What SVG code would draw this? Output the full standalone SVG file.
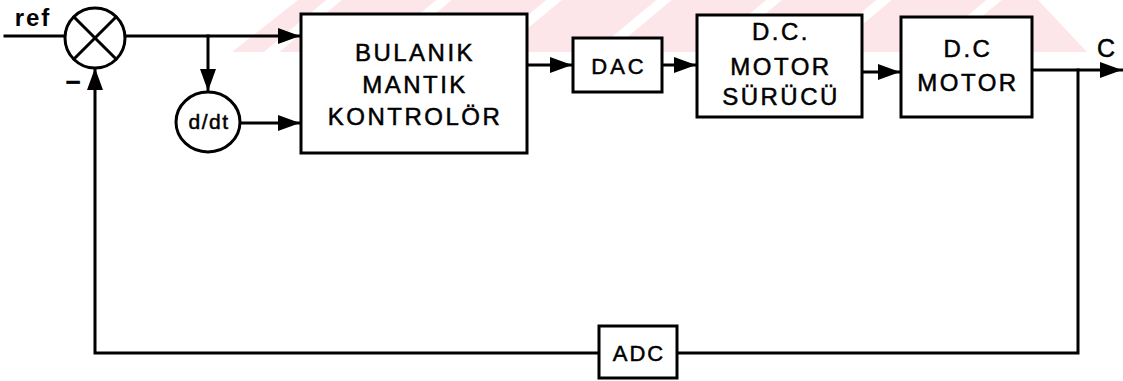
<svg xmlns="http://www.w3.org/2000/svg" width="1123" height="381" viewBox="0 0 1123 381">
<style>
.ln{fill:none;stroke:#000;stroke-width:3;stroke-linecap:square}
.bx{fill:#fff;stroke:#000;stroke-width:3}
.t{font-family:"Liberation Sans",Arial,sans-serif;font-size:24px;letter-spacing:2.5px;text-anchor:middle;fill:#000;stroke:#000;stroke-width:0.5}
.s{font-size:22px;letter-spacing:3px}
</style>
<defs>
<marker id="ah" markerUnits="userSpaceOnUse" markerWidth="24" markerHeight="18" refX="22" refY="8" orient="auto">
<path d="M0,0 L22,8 L0,16 z" fill="#000"/>
</marker>
</defs>
<rect width="1123" height="381" fill="#fff"/>
<g id="watermark">
<polygon points="232,52 298,0 1038,0 1087,52" fill="#fde6e9"/>
<g stroke="#fff" stroke-width="10">
<line x1="262" y1="60" x2="340" y2="-5"/>
<line x1="372" y1="60" x2="450" y2="-5"/>
<line x1="482" y1="60" x2="560" y2="-5"/>
<line x1="592" y1="60" x2="670" y2="-5"/>
<line x1="702" y1="60" x2="780" y2="-5"/>
<line x1="812" y1="60" x2="890" y2="-5"/>
<line x1="922" y1="60" x2="1000" y2="-5"/>
</g>
</g>
<g id="connectors">
<line class="ln" x1="5" y1="36" x2="64" y2="36"/>
<line class="ln" x1="126" y1="36" x2="300" y2="36" marker-end="url(#ah)"/>
<line class="ln" x1="208" y1="36" x2="208" y2="91" marker-end="url(#ah)"/>
<line class="ln" x1="240" y1="123" x2="300" y2="123" marker-end="url(#ah)"/>
<line class="ln" x1="528" y1="65" x2="572" y2="65" marker-end="url(#ah)"/>
<line class="ln" x1="663" y1="65" x2="696" y2="65" marker-end="url(#ah)"/>
<line class="ln" x1="863" y1="72" x2="900" y2="72" marker-end="url(#ah)"/>
<line class="ln" x1="1033" y1="70" x2="1122" y2="70" marker-end="url(#ah)"/>
<polyline class="ln" points="1078,70 1078,353 677,353"/>
<polyline class="ln" points="599,353 95,353 95,68" marker-end="url(#ah)"/>
</g>
<g id="sum">
<circle cx="95" cy="38" r="30" class="bx"/>
<line class="ln" x1="74" y1="17" x2="116" y2="59"/>
<line class="ln" x1="116" y1="17" x2="74" y2="59"/>
</g>
<g id="ref-label"><text class="t" x="33" y="26" style="font-size:24px;font-weight:bold;letter-spacing:2px;stroke-width:0">ref</text></g>
<g id="minus-label"><text class="t" x="73" y="91" style="font-size:26px;font-weight:bold;letter-spacing:0">−</text></g>
<g id="ddt">
<ellipse cx="208" cy="122" rx="32" ry="30" class="bx"/>
<text class="t" x="209" y="129" style="font-size:21px;letter-spacing:1.5px">d/dt</text>
</g>
<g id="bulanik">
<rect x="301" y="14" width="226" height="139" class="bx"/>
<text class="t" x="415" y="61">BULANIK</text>
<text class="t" x="415" y="93">MANTIK</text>
<text class="t" x="415" y="125">KONTROLÖR</text>
</g>
<g id="dac">
<rect x="573" y="38" width="89" height="54" class="bx"/>
<text class="t s" x="619" y="74">DAC</text>
</g>
<g id="surucu">
<rect x="697" y="15" width="165" height="102" class="bx"/>
<text class="t" x="781" y="40">D.C.</text>
<text class="t" x="781" y="75">MOTOR</text>
<text class="t" x="781" y="105">SÜRÜCÜ</text>
</g>
<g id="motor">
<rect x="901" y="17" width="131" height="100" class="bx"/>
<text class="t" x="968" y="57">D.C</text>
<text class="t" x="968" y="91">MOTOR</text>
</g>
<g id="c-label"><text class="t" x="1106" y="57" style="font-size:25px;letter-spacing:0">C</text></g>
<g id="adc">
<rect x="599" y="326" width="78" height="52" class="bx"/>
<text class="t s" x="639" y="361" style="letter-spacing:2px">ADC</text>
</g>
</svg>
